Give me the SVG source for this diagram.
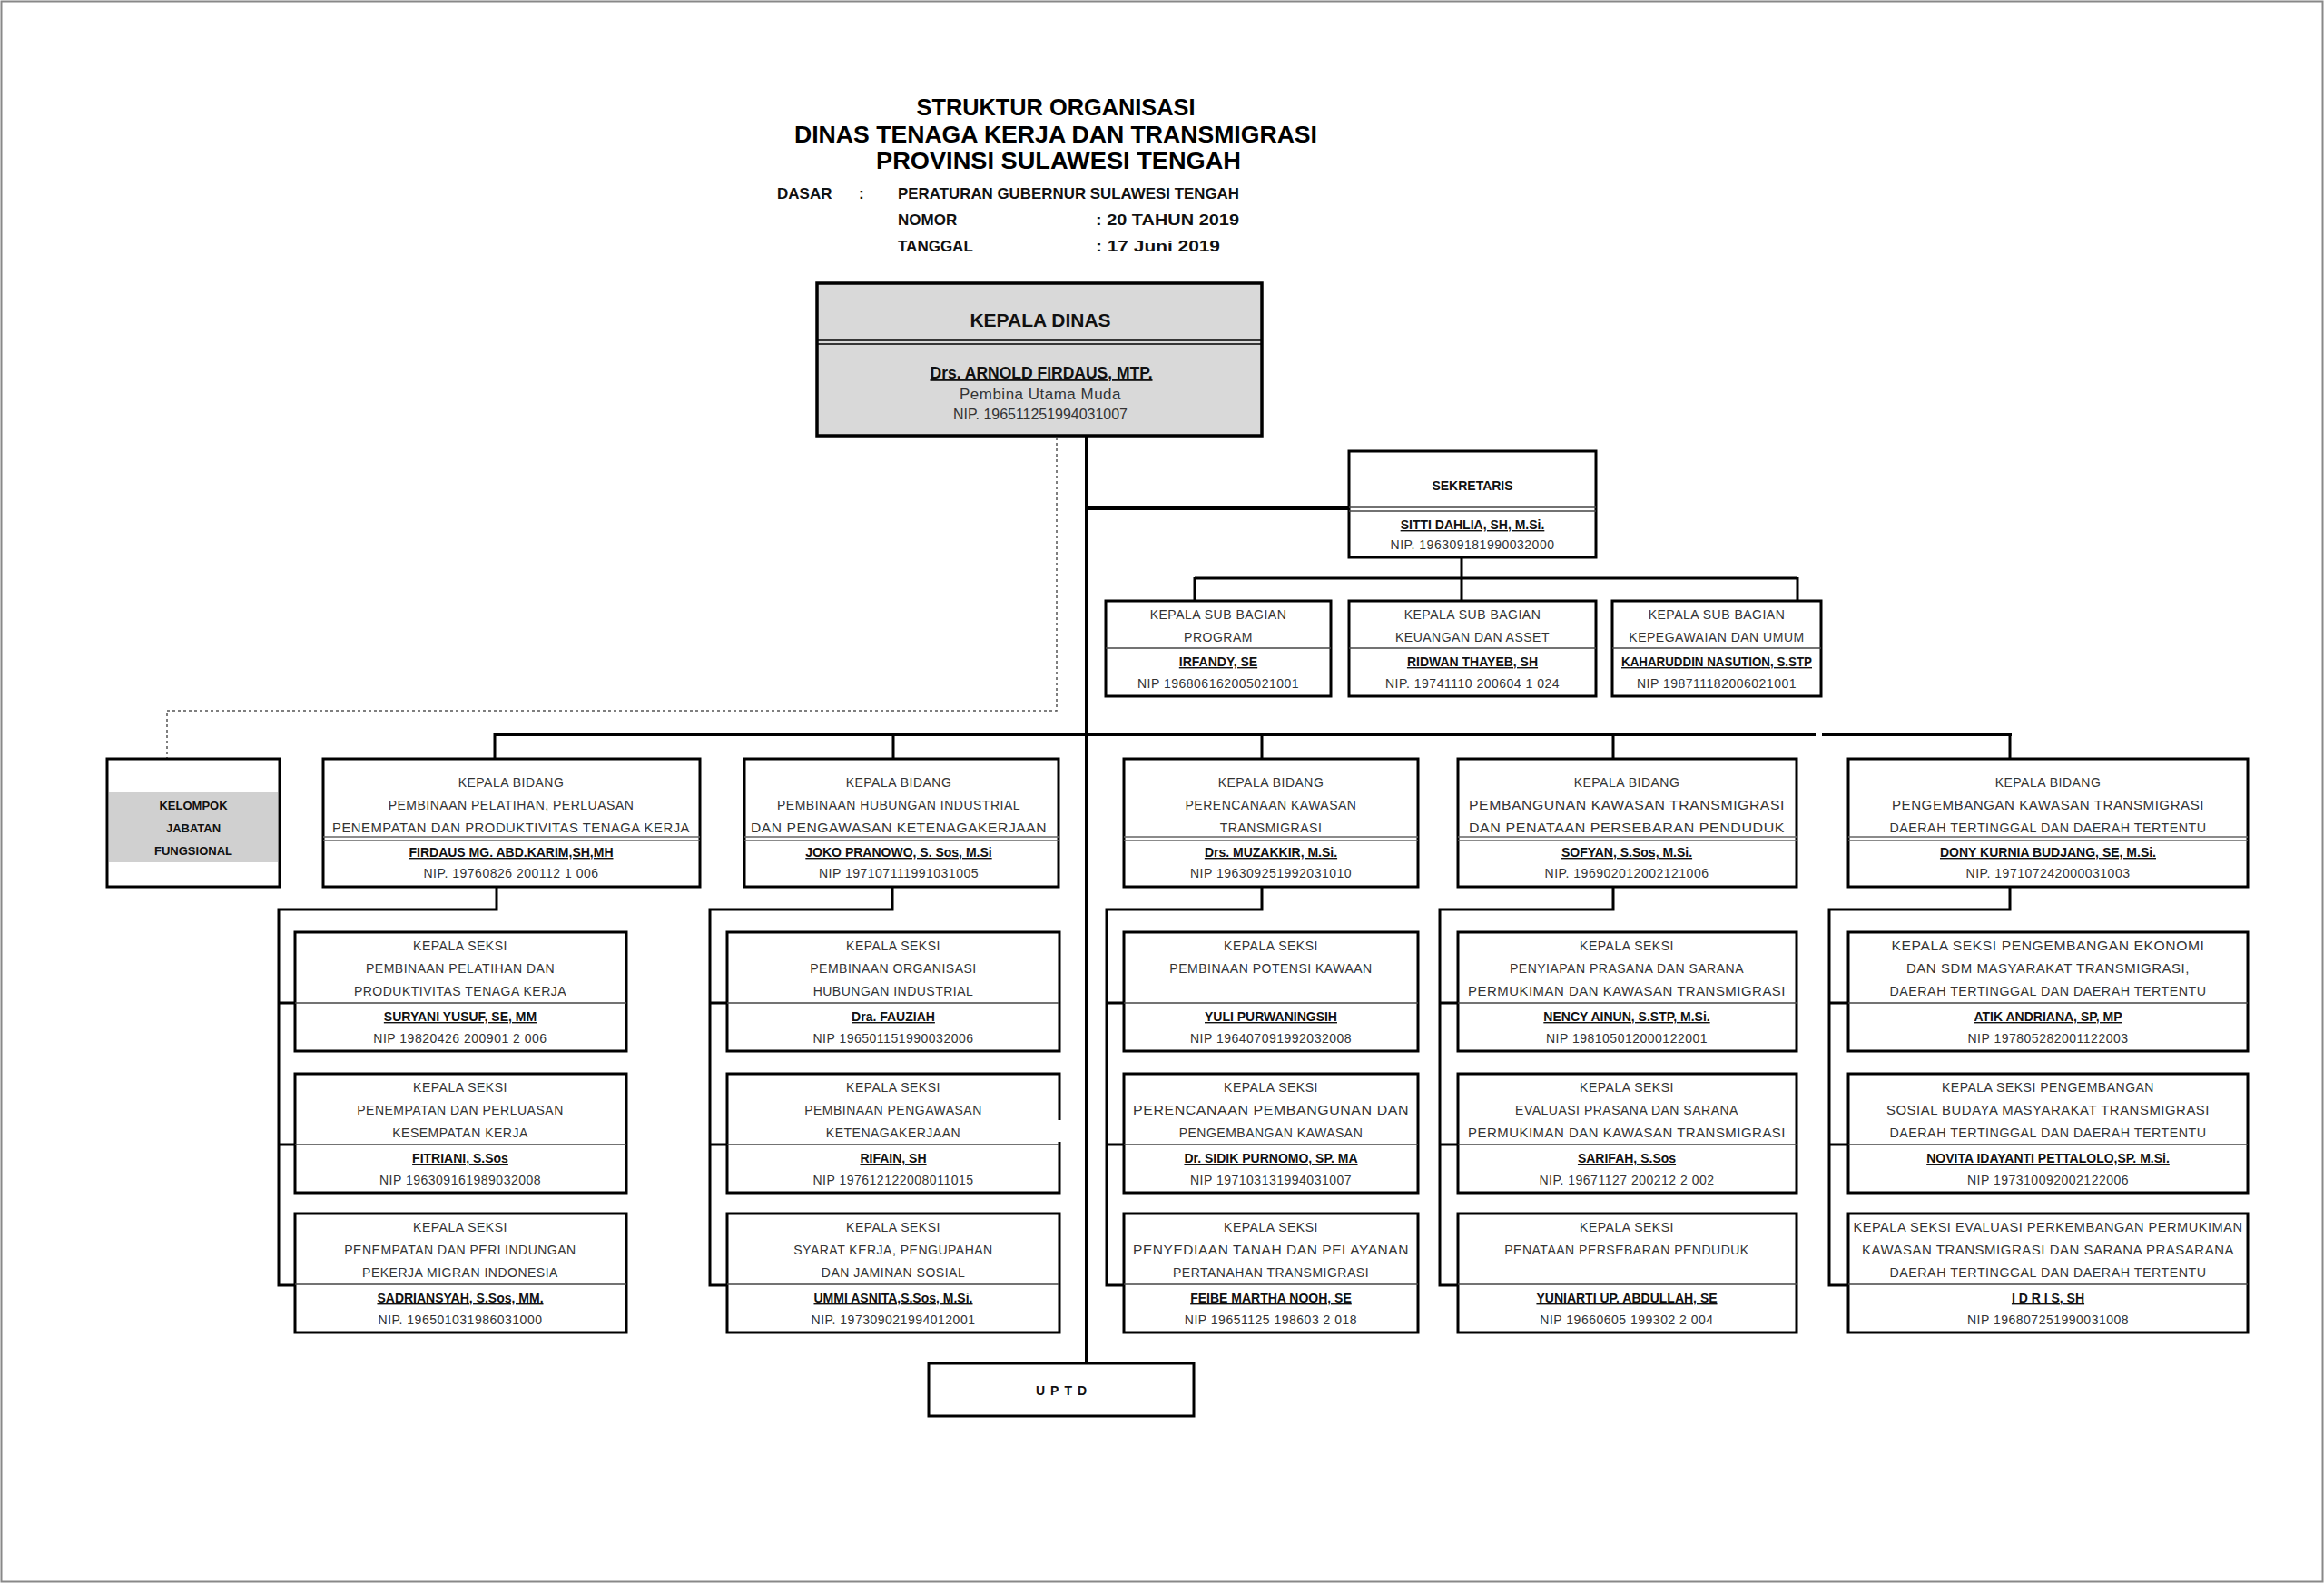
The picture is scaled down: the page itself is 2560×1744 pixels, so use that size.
<svg xmlns="http://www.w3.org/2000/svg" width="2560" height="1744" viewBox="0 0 2560 1744">
<style>
.bg{fill:#fff}
.frame{fill:none;stroke:#888;stroke-width:2}
.box{fill:#fff;stroke:#000;stroke-width:3}
.gbox{fill:#d9d9d9;stroke:#000;stroke-width:3.5}
.sep{stroke:#444;stroke-width:1.5}
.dsep{stroke:#666;stroke-width:1.5}
.conn{fill:none;stroke:#000;stroke-width:4}
.thin{fill:none;stroke:#000;stroke-width:3}
.dash{fill:none;stroke:#555;stroke-width:1.5;stroke-dasharray:3 3}
text{font-family:"Liberation Sans",Arial,sans-serif;text-anchor:middle}
.ttl{font-size:25px;font-weight:bold;fill:#000}
.hd{font-size:17px;font-weight:bold;fill:#111;text-anchor:start}
.t{font-size:14px;fill:#333;letter-spacing:0.5px}
.n{font-size:14px;font-weight:bold;fill:#111;text-decoration:underline}
.b{font-size:14px;font-weight:bold;fill:#111}
</style>
<rect class="bg" x="0" y="0" width="2560" height="1744"/>
<rect class="frame" x="1.5" y="1.5" width="2557" height="1741"/>

<g id="title">
<text class="ttl" x="1163" y="127" textLength="307" lengthAdjust="spacingAndGlyphs">STRUKTUR ORGANISASI</text>
<text class="ttl" x="1163" y="157" textLength="576" lengthAdjust="spacingAndGlyphs">DINAS TENAGA KERJA DAN TRANSMIGRASI</text>
<text class="ttl" x="1166" y="186" textLength="402" lengthAdjust="spacingAndGlyphs">PROVINSI  SULAWESI  TENGAH</text>
<text class="hd" x="856" y="219">DASAR</text>
<text class="hd" x="946" y="219">:</text>
<text class="hd" x="989" y="219" textLength="376" lengthAdjust="spacingAndGlyphs">PERATURAN  GUBERNUR SULAWESI TENGAH</text>
<text class="hd" x="989" y="248">NOMOR</text>
<text class="hd" x="1207" y="248" textLength="158" lengthAdjust="spacingAndGlyphs">: 20  TAHUN 2019</text>
<text class="hd" x="989" y="277">TANGGAL</text>
<text class="hd" x="1207" y="277" textLength="137" lengthAdjust="spacingAndGlyphs">: 17 Juni 2019</text>
</g>

<g id="connectors">
<path class="conn" d="M1197,480 V1502"/>
<path class="conn" d="M1197,560 H1486"/>
<path class="thin" d="M1610,614 V637 M1316,637 H1980 M1316,636 V662 M1610,636 V662 M1980,636 V662"/>
<path class="conn" d="M545,809 H2000 M2007,809 H2216"/>
<path class="thin" d="M545,808 V836 M984,808 V836 M1390,808 V836 M1777,808 V836 M2214,808 V836"/>
<path class="dash" d="M1164,482 V783 H184 V836"/>
<path class="thin" d="M547,977 V1002 H307 V1416 H325 M307,1105 H325 M307,1261 H325"/>
<path class="thin" d="M983,977 V1002 H782 V1416 H801 M782,1105 H801 M782,1261 H801"/>
<path class="thin" d="M1390,977 V1002 H1219 V1416 H1238 M1219,1105 H1238 M1219,1261 H1238"/>
<path class="thin" d="M1777,977 V1002 H1586 V1416 H1606 M1586,1105 H1606 M1586,1261 H1606"/>
<path class="thin" d="M2214,977 V1002 H2015 V1416 H2036 M2015,1105 H2036 M2015,1261 H2036"/>
</g>

<g id="kepala-dinas">
<rect class="gbox" x="900" y="312" width="490" height="168"/>
<path class="sep" d="M900,375 H1390 M900,379 H1390" style="stroke:#000"/>
<text class="b" x="1146" y="360" style="font-size:21px">KEPALA DINAS</text>
<text class="n" x="1147" y="417" style="font-size:18px" textLength="245" lengthAdjust="spacingAndGlyphs">Drs. ARNOLD FIRDAUS, MTP.</text>
<text class="t" x="1146" y="440" style="font-size:16px" textLength="178" lengthAdjust="spacingAndGlyphs">Pembina Utama Muda</text>
<text class="t" x="1146" y="462" style="font-size:16px;letter-spacing:0" textLength="192" lengthAdjust="spacingAndGlyphs">NIP. 196511251994031007</text>
</g>

<g id="sekretaris">
<rect class="box" x="1486" y="497" width="272" height="117"/>
<path class="sep" d="M1486,559 H1758 M1486,563 H1758"/>
<text class="b" x="1622" y="540">SEKRETARIS</text>
<text class="n" x="1622" y="583">SITTI DAHLIA, SH, M.Si.</text>
<text class="t" x="1622" y="605">NIP.  196309181990032000</text>
</g>

<g id="subbag-program">
<rect class="box" x="1218" y="662" width="248" height="105"/>
<path class="sep" d="M1218,714 H1466"/>
<text class="t" x="1342" y="682">KEPALA SUB BAGIAN</text>
<text class="t" x="1342" y="707">PROGRAM</text>
<text class="n" x="1342" y="734">IRFANDY, SE</text>
<text class="t" x="1342" y="758">NIP 196806162005021001</text>
</g>
<g id="subbag-keuangan">
<rect class="box" x="1486" y="662" width="272" height="105"/>
<path class="sep" d="M1486,714 H1758"/>
<text class="t" x="1622" y="682">KEPALA SUB BAGIAN</text>
<text class="t" x="1622" y="707">KEUANGAN DAN ASSET</text>
<text class="n" x="1622" y="734">RIDWAN THAYEB, SH</text>
<text class="t" x="1622" y="758">NIP.  19741110 200604 1 024</text>
</g>
<g id="subbag-kepegawaian">
<rect class="box" x="1776" y="662" width="230" height="105"/>
<path class="sep" d="M1776,714 H2006"/>
<text class="t" x="1891" y="682">KEPALA SUB BAGIAN</text>
<text class="t" x="1891" y="707">KEPEGAWAIAN DAN UMUM</text>
<text class="n" x="1891" y="734" textLength="210" lengthAdjust="spacingAndGlyphs">KAHARUDDIN NASUTION, S.STP</text>
<text class="t" x="1891" y="758">NIP  198711182006021001</text>
</g>

<g id="kelompok-jabatan-fungsional">
<rect class="box" x="118" y="836" width="190" height="141"/>
<rect x="120" y="873" width="186" height="77" fill="#d0d0d0"/>
<text class="b" x="213" y="892" style="font-size:13px">KELOMPOK</text>
<text class="b" x="213" y="917" style="font-size:13px">JABATAN</text>
<text class="b" x="213" y="942" style="font-size:13px">FUNGSIONAL</text>
</g>

<g id="bidang-1">
<rect class="box" x="356" y="836" width="415" height="141"/>
<path class="dsep" d="M356,922 H771 M356,926 H771"/>
<text class="t" x="563" y="867">KEPALA  BIDANG</text>
<text class="t" x="563" y="892">PEMBINAAN PELATIHAN, PERLUASAN</text>
<text class="t" x="563" y="917" textLength="394" lengthAdjust="spacingAndGlyphs">PENEMPATAN DAN PRODUKTIVITAS  TENAGA KERJA</text>
<text class="n" x="563" y="944">FIRDAUS MG. ABD.KARIM,SH,MH</text>
<text class="t" x="563" y="967">NIP.  19760826 200112 1 006</text>
</g>
<g id="bidang-2">
<rect class="box" x="820" y="836" width="346" height="141"/>
<path class="dsep" d="M820,922 H1166 M820,926 H1166"/>
<text class="t" x="990" y="867">KEPALA  BIDANG</text>
<text class="t" x="990" y="892">PEMBINAAN HUBUNGAN INDUSTRIAL</text>
<text class="t" x="990" y="917" textLength="326" lengthAdjust="spacingAndGlyphs">DAN PENGAWASAN KETENAGAKERJAAN</text>
<text class="n" x="990" y="944">JOKO PRANOWO, S. Sos, M.Si</text>
<text class="t" x="990" y="967">NIP 197107111991031005</text>
</g>
<g id="bidang-3">
<rect class="box" x="1238" y="836" width="324" height="141"/>
<path class="dsep" d="M1238,922 H1562 M1238,926 H1562"/>
<text class="t" x="1400" y="867">KEPALA  BIDANG</text>
<text class="t" x="1400" y="892">PERENCANAAN KAWASAN</text>
<text class="t" x="1400" y="917">TRANSMIGRASI</text>
<text class="n" x="1400" y="944">Drs. MUZAKKIR, M.Si.</text>
<text class="t" x="1400" y="967">NIP 196309251992031010</text>
</g>
<g id="bidang-4">
<rect class="box" x="1606" y="836" width="373" height="141"/>
<path class="dsep" d="M1606,922 H1979 M1606,926 H1979"/>
<text class="t" x="1792" y="867">KEPALA  BIDANG</text>
<text class="t" x="1792" y="892" textLength="348" lengthAdjust="spacingAndGlyphs">PEMBANGUNAN KAWASAN TRANSMIGRASI</text>
<text class="t" x="1792" y="917" textLength="348" lengthAdjust="spacingAndGlyphs">DAN PENATAAN PERSEBARAN PENDUDUK</text>
<text class="n" x="1792" y="944">SOFYAN, S.Sos, M.Si.</text>
<text class="t" x="1792" y="967">NIP.  196902012002121006</text>
</g>
<g id="bidang-5">
<rect class="box" x="2036" y="836" width="440" height="141"/>
<path class="dsep" d="M2036,922 H2476 M2036,926 H2476"/>
<text class="t" x="2256" y="867">KEPALA  BIDANG</text>
<text class="t" x="2256" y="892" textLength="344" lengthAdjust="spacingAndGlyphs">PENGEMBANGAN KAWASAN TRANSMIGRASI</text>
<text class="t" x="2256" y="917" textLength="349" lengthAdjust="spacingAndGlyphs">DAERAH TERTINGGAL DAN DAERAH TERTENTU</text>
<text class="n" x="2256" y="944">DONY KURNIA BUDJANG, SE, M.Si.</text>
<text class="t" x="2256" y="967">NIP. 197107242000031003</text>
</g>

<g id="seksi-1-1">
<rect class="box" x="325" y="1027" width="365" height="131"/>
<path class="sep" d="M325,1105 H690"/>
<text class="t" x="507" y="1047">KEPALA SEKSI</text>
<text class="t" x="507" y="1072">PEMBINAAN PELATIHAN DAN</text>
<text class="t" x="507" y="1097">PRODUKTIVITAS TENAGA KERJA</text>
<text class="n" x="507" y="1125">SURYANI YUSUF, SE, MM</text>
<text class="t" x="507" y="1149">NIP 19820426 200901 2 006</text>
</g>
<g id="seksi-1-2">
<rect class="box" x="325" y="1183" width="365" height="131"/>
<path class="sep" d="M325,1261 H690"/>
<text class="t" x="507" y="1203">KEPALA SEKSI</text>
<text class="t" x="507" y="1228">PENEMPATAN DAN PERLUASAN</text>
<text class="t" x="507" y="1253">KESEMPATAN KERJA</text>
<text class="n" x="507" y="1281">FITRIANI, S.Sos</text>
<text class="t" x="507" y="1305">NIP  196309161989032008</text>
</g>
<g id="seksi-1-3">
<rect class="box" x="325" y="1337" width="365" height="131"/>
<path class="sep" d="M325,1415 H690"/>
<text class="t" x="507" y="1357">KEPALA SEKSI</text>
<text class="t" x="507" y="1382">PENEMPATAN DAN PERLINDUNGAN</text>
<text class="t" x="507" y="1407">PEKERJA MIGRAN INDONESIA</text>
<text class="n" x="507" y="1435">SADRIANSYAH, S.Sos, MM.</text>
<text class="t" x="507" y="1459">NIP.  196501031986031000</text>
</g>

<g id="seksi-2-1">
<rect class="box" x="801" y="1027" width="366" height="131"/>
<path class="sep" d="M801,1105 H1167"/>
<text class="t" x="984" y="1047">KEPALA SEKSI</text>
<text class="t" x="984" y="1072">PEMBINAAN   ORGANISASI</text>
<text class="t" x="984" y="1097">HUBUNGAN  INDUSTRIAL</text>
<text class="n" x="984" y="1125">Dra. FAUZIAH</text>
<text class="t" x="984" y="1149">NIP 196501151990032006</text>
</g>
<g id="seksi-2-2">
<rect class="box" x="801" y="1183" width="366" height="131"/>
<rect x="1164" y="1234" width="6" height="24" fill="#fff"/>
<path class="sep" d="M801,1261 H1167"/>
<text class="t" x="984" y="1203">KEPALA SEKSI</text>
<text class="t" x="984" y="1228">PEMBINAAN PENGAWASAN</text>
<text class="t" x="984" y="1253">KETENAGAKERJAAN</text>
<text class="n" x="984" y="1281">RIFAIN, SH</text>
<text class="t" x="984" y="1305">NIP  197612122008011015</text>
</g>
<g id="seksi-2-3">
<rect class="box" x="801" y="1337" width="366" height="131"/>
<path class="sep" d="M801,1415 H1167"/>
<text class="t" x="984" y="1357">KEPALA SEKSI</text>
<text class="t" x="984" y="1382">SYARAT KERJA, PENGUPAHAN</text>
<text class="t" x="984" y="1407">DAN JAMINAN SOSIAL</text>
<text class="n" x="984" y="1435">UMMI ASNITA,S.Sos, M.Si.</text>
<text class="t" x="984" y="1459">NIP.  197309021994012001</text>
</g>

<g id="seksi-3-1">
<rect class="box" x="1238" y="1027" width="324" height="131"/>
<path class="sep" d="M1238,1105 H1562"/>
<text class="t" x="1400" y="1047">KEPALA SEKSI</text>
<text class="t" x="1400" y="1072">PEMBINAAN POTENSI KAWAAN</text>
<text class="n" x="1400" y="1125">YULI PURWANINGSIH</text>
<text class="t" x="1400" y="1149">NIP  196407091992032008</text>
</g>
<g id="seksi-3-2">
<rect class="box" x="1238" y="1183" width="324" height="131"/>
<path class="sep" d="M1238,1261 H1562"/>
<text class="t" x="1400" y="1203">KEPALA SEKSI</text>
<text class="t" x="1400" y="1228" textLength="304" lengthAdjust="spacingAndGlyphs">PERENCANAAN  PEMBANGUNAN  DAN</text>
<text class="t" x="1400" y="1253">PENGEMBANGAN KAWASAN</text>
<text class="n" x="1400" y="1281">Dr. SIDIK PURNOMO, SP. MA</text>
<text class="t" x="1400" y="1305">NIP 197103131994031007</text>
</g>
<g id="seksi-3-3">
<rect class="box" x="1238" y="1337" width="324" height="131"/>
<path class="sep" d="M1238,1415 H1562"/>
<text class="t" x="1400" y="1357">KEPALA SEKSI</text>
<text class="t" x="1400" y="1382" textLength="304" lengthAdjust="spacingAndGlyphs">PENYEDIAAN TANAH  DAN PELAYANAN</text>
<text class="t" x="1400" y="1407">PERTANAHAN TRANSMIGRASI</text>
<text class="n" x="1400" y="1435">FEIBE MARTHA NOOH, SE</text>
<text class="t" x="1400" y="1459">NIP 19651125 198603 2 018</text>
</g>

<g id="seksi-4-1">
<rect class="box" x="1606" y="1027" width="373" height="131"/>
<path class="sep" d="M1606,1105 H1979"/>
<text class="t" x="1792" y="1047">KEPALA SEKSI</text>
<text class="t" x="1792" y="1072">PENYIAPAN PRASANA DAN SARANA</text>
<text class="t" x="1792" y="1097" textLength="350" lengthAdjust="spacingAndGlyphs">PERMUKIMAN DAN KAWASAN TRANSMIGRASI</text>
<text class="n" x="1792" y="1125">NENCY AINUN, S.STP, M.Si.</text>
<text class="t" x="1792" y="1149">NIP 198105012000122001</text>
</g>
<g id="seksi-4-2">
<rect class="box" x="1606" y="1183" width="373" height="131"/>
<path class="sep" d="M1606,1261 H1979"/>
<text class="t" x="1792" y="1203">KEPALA SEKSI</text>
<text class="t" x="1792" y="1228">EVALUASI  PRASANA DAN SARANA</text>
<text class="t" x="1792" y="1253" textLength="350" lengthAdjust="spacingAndGlyphs">PERMUKIMAN DAN KAWASAN TRANSMIGRASI</text>
<text class="n" x="1792" y="1281">SARIFAH, S.Sos</text>
<text class="t" x="1792" y="1305">NIP. 19671127 200212 2 002</text>
</g>
<g id="seksi-4-3">
<rect class="box" x="1606" y="1337" width="373" height="131"/>
<path class="sep" d="M1606,1415 H1979"/>
<text class="t" x="1792" y="1357">KEPALA SEKSI</text>
<text class="t" x="1792" y="1382">PENATAAN PERSEBARAN PENDUDUK</text>
<text class="n" x="1792" y="1435">YUNIARTI UP. ABDULLAH, SE</text>
<text class="t" x="1792" y="1459">NIP 19660605 199302 2 004</text>
</g>

<g id="seksi-5-1">
<rect class="box" x="2036" y="1027" width="440" height="131"/>
<path class="sep" d="M2036,1105 H2476"/>
<text class="t" x="2256" y="1047" textLength="345" lengthAdjust="spacingAndGlyphs">KEPALA SEKSI PENGEMBANGAN  EKONOMI</text>
<text class="t" x="2256" y="1072" textLength="312" lengthAdjust="spacingAndGlyphs">DAN SDM MASYARAKAT TRANSMIGRASI,</text>
<text class="t" x="2256" y="1097" textLength="349" lengthAdjust="spacingAndGlyphs">DAERAH TERTINGGAL DAN DAERAH TERTENTU</text>
<text class="n" x="2256" y="1125">ATIK ANDRIANA, SP, MP</text>
<text class="t" x="2256" y="1149">NIP 197805282001122003</text>
</g>
<g id="seksi-5-2">
<rect class="box" x="2036" y="1183" width="440" height="131"/>
<path class="sep" d="M2036,1261 H2476"/>
<text class="t" x="2256" y="1203">KEPALA SEKSI PENGEMBANGAN</text>
<text class="t" x="2256" y="1228" textLength="356" lengthAdjust="spacingAndGlyphs">SOSIAL BUDAYA MASYARAKAT TRANSMIGRASI</text>
<text class="t" x="2256" y="1253" textLength="349" lengthAdjust="spacingAndGlyphs">DAERAH TERTINGGAL DAN DAERAH TERTENTU</text>
<text class="n" x="2256" y="1281">NOVITA IDAYANTI PETTALOLO,SP. M.Si.</text>
<text class="t" x="2256" y="1305">NIP  197310092002122006</text>
</g>
<g id="seksi-5-3">
<rect class="box" x="2036" y="1337" width="440" height="131"/>
<path class="sep" d="M2036,1415 H2476"/>
<text class="t" x="2256" y="1357" textLength="429" lengthAdjust="spacingAndGlyphs">KEPALA SEKSI EVALUASI PERKEMBANGAN PERMUKIMAN</text>
<text class="t" x="2256" y="1382" textLength="410" lengthAdjust="spacingAndGlyphs">KAWASAN TRANSMIGRASI DAN SARANA PRASARANA</text>
<text class="t" x="2256" y="1407" textLength="349" lengthAdjust="spacingAndGlyphs">DAERAH TERTINGGAL DAN DAERAH TERTENTU</text>
<text class="n" x="2256" y="1435">I D R I S, SH</text>
<text class="t" x="2256" y="1459">NIP 196807251990031008</text>
</g>

<g id="uptd">
<rect class="box" x="1023" y="1502" width="292" height="58"/>
<text class="b" x="1172" y="1537" style="letter-spacing:6px">UPTD</text>
</g>
</svg>
